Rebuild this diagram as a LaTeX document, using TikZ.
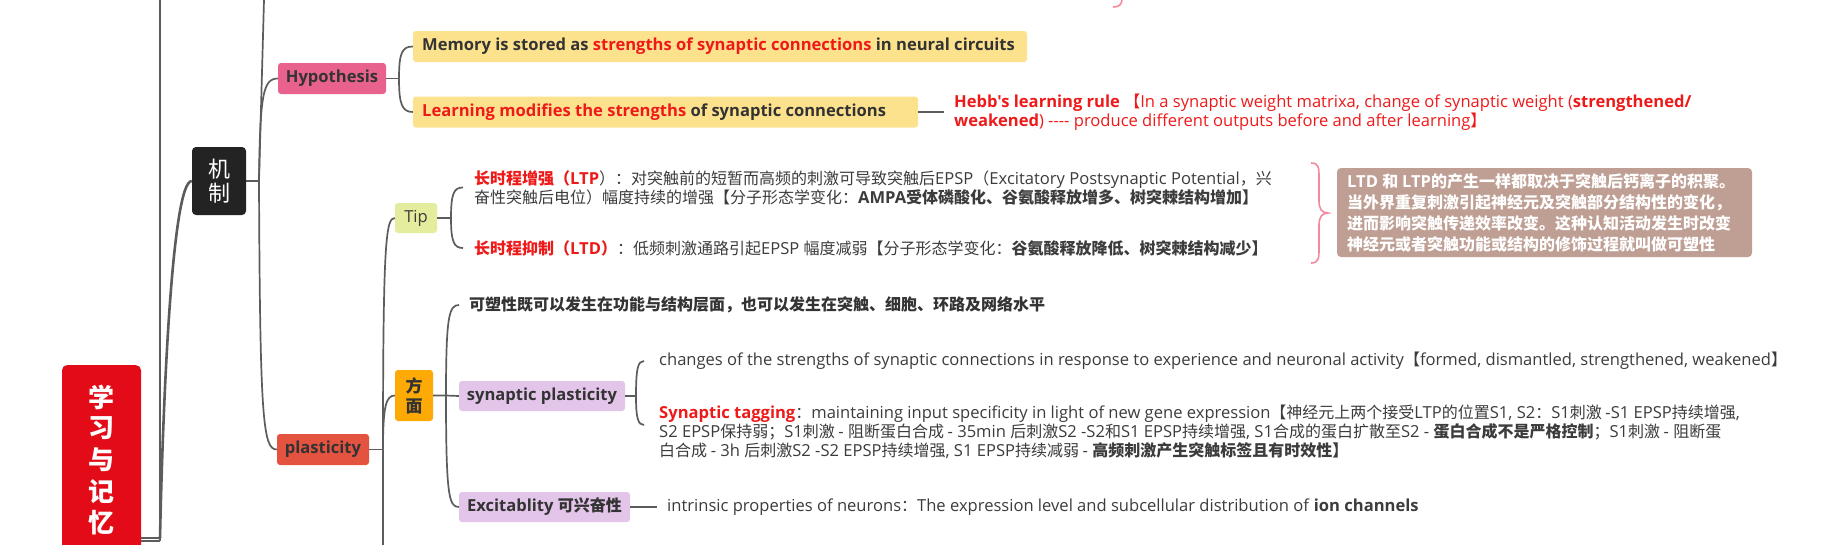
\documentclass[tikz,border=0pt]{standalone}
\usepackage{fontspec}
\setmainfont{Open Sans}[Scale=1.035]
\newfontfamily\latf{Open Sans}[Scale=1.035]
\newfontfamily\cjkf{Noto Sans CJK SC}
\XeTeXinterchartokenstate=1
\newXeTeXintercharclass\CJKcls
\makeatletter
\def\setcjkrange#1#2{\count@=#1\relax
  \loop\XeTeXcharclass\count@=\CJKcls\relax
  \ifnum\count@<#2\relax\advance\count@ by 1\relax\repeat}
\makeatother
\setcjkrange{"3000}{"303F}
\setcjkrange{"4E00}{"9FFF}
\setcjkrange{"FF00}{"FFEF}
\XeTeXinterchartoks 0 \CJKcls = {\cjkf}
\XeTeXinterchartoks 4095 \CJKcls = {\cjkf}
\XeTeXinterchartoks \CJKcls \CJKcls = {\cjkf}
\XeTeXinterchartoks \CJKcls 0 = {\latf}
\XeTeXinterchartoks 4095 0 = {\latf}

\definecolor{linec}{HTML}{5C5C5C}
\definecolor{textc}{HTML}{3C3C3C}
\definecolor{boldc}{HTML}{333333}
\definecolor{redc}{HTML}{EE1A1A}
\definecolor{rootc}{HTML}{E30B17}
\definecolor{jizhic}{HTML}{232323}
\definecolor{hypc}{HTML}{E9628D}
\definecolor{yelc}{HTML}{FDE28E}
\definecolor{tipc}{HTML}{E4EC9D}
\definecolor{plastc}{HTML}{E4533F}
\definecolor{fmc}{HTML}{FDAA06}
\definecolor{lavc}{HTML}{E2C5E9}
\definecolor{brownc}{HTML}{BF9F94}
\definecolor{pinkc}{HTML}{F3899F}
\newcommand{\redtxt}[1]{\textcolor{redc}{#1}}

\begin{document}
\begin{tikzpicture}[x=1pt,y=-1pt,
  conn/.style={draw=linec, line width=1.7pt},
  rootconn/.style={draw=linec, line width=2.6pt},
  lbl/.style={rounded corners=3pt, inner sep=0pt, minimum height=31pt, text=boldc,
    font=\bfseries\fontsize{16}{19}\selectfont},
  ybox/.style={fill=yelc, rounded corners=3pt, inner sep=0pt, minimum height=31pt},
  btxt/.style={anchor=west, inner sep=0pt, text=boldc, font=\bfseries\fontsize{16}{19}\selectfont},
  txt/.style={anchor=west, inner xsep=10pt, inner ysep=0pt, align=left, text=textc,
    font=\fontsize{16}{19}\selectfont},
  roottxt/.style={text=white, inner sep=0pt, font=\bfseries\fontsize{26}{28}\selectfont},
]
\useasboundingbox (0,0) rectangle (1842,544);
\fill[white] (0,0) rectangle (1842,544);
\clip (0,0) rectangle (1842,544);

% ---------- nodes ----------
\node[fill=rootc, rounded corners=5pt, inner sep=0pt, minimum width=79pt,
      minimum height=260pt, anchor=north] (root) at (101.5,365) {};
\foreach \c/\yy [count=\i] in {学/397,习/428,与/460,记/492,忆/523}
  \node[roottxt] (rc\i) at (101,\yy) {\c};

\node[fill=jizhic, text=white, rounded corners=4pt, inner sep=0pt, minimum width=54pt,
      minimum height=68pt, align=center, font=\fontsize{22}{24}\selectfont] (jizhi) at (219,181) {机\\制};

\node[lbl, fill=hypc, minimum width=108pt] (hyp) at (332,78.5) {Hypothesis};

\node[ybox, minimum width=614pt] (mem) at (720,46.5) {};
\node[btxt] (memt) at (422,46.5) {Memory is stored as \redtxt{strengths of synaptic connections} in neural circuits};
\node[ybox, minimum width=505pt] (learn) at (665.5,112) {};
\node[btxt] (learnt) at (422,112) {\redtxt{Learning modifies the strengths} of synaptic connections};

\node[txt, text=redc] (hebb) at (944,112) {\textbf{Hebb's learning rule} 【In a synaptic weight matrixa, change of synaptic weight (\textbf{strengthened/}\\
\textbf{weakened}) -{}-{}-{}- produce different outputs before and after learning】};

\node[lbl, fill=tipc, minimum width=42pt, minimum height=30pt, font=\fontsize{16}{19}\selectfont, text=textc] (tip) at (416,218) {Tip};

\node[txt, inner xsep=11pt, font=\fontsize{16}{17}\selectfont] (ltp) at (463,187.5)
 {\textbf{\redtxt{长时程增强（LTP}}）：对突触前的短暂而高频的刺激可导致突触后EPSP（Excitatory Postsynaptic Potential，兴\\
 奋性突触后电位）幅度持续的增强【分子形态学变化：\textbf{AMPA受体磷酸化、谷氨酸释放增多、树突棘结构增加】}};
\node[txt, inner xsep=11pt] (ltd) at (463,248)
 {\textbf{\redtxt{长时程抑制（LTD）}}：低频刺激通路引起EPSP 幅度减弱【分子形态学变化：\textbf{谷氨酸释放降低、树突棘结构减少】}};

\node[fill=brownc, rounded corners=4pt, inner sep=0pt, minimum width=415pt, minimum height=89pt] (summ) at (1544.5,212.5) {};
\node[anchor=west, inner sep=0pt, align=left, text=white, font=\bfseries\fontsize{16}{21}\selectfont] (summt) at (1347,212.5)
 {LTD 和 LTP的产生一样都取决于突触后钙离子的积聚。\\
  当外界重复刺激引起神经元及突触部分结构性的变化，\\
  进而影响突触传递效率改变。这种认知活动发生时改变\\
  神经元或者突触功能或结构的修饰过程就叫做可塑性};

\node[lbl, fill=plastc, minimum width=92pt] (plast) at (323,449.5) {plasticity};
\node[lbl, fill=fmc, minimum width=38pt, minimum height=51pt, align=center,
      font=\bfseries\fontsize{17}{20}\selectfont] (fm) at (414,395.5) {方\\面};

\node[txt, text=boldc, font=\bfseries\fontsize{16}{19}\selectfont] (kesu) at (459,305)
 {可塑性既可以发生在功能与结构层面，也可以发生在突触、细胞、环路及网络水平};

\node[lbl, fill=lavc, minimum width=166pt, minimum height=30pt] (synp) at (542,396) {synaptic plasticity};
\node[txt, inner xsep=15pt] (chg) at (644,361)
 {changes of the strengths of synaptic connections in response to experience and neuronal activity【formed, dismantled, strengthened, weakened】};
\node[txt, inner xsep=15pt] (tag) at (644,432)
 {\textbf{\redtxt{Synaptic tagging}}：maintaining input specificity in light of new gene expression【神经元上两个接受LTP的位置S1, S2：S1刺激 -S1 EPSP持续增强,\\
  S2 EPSP保持弱；S1刺激 - 阻断蛋白合成 - 35min 后刺激S2 -S2和S1 EPSP持续增强, S1合成的蛋白扩散至S2 - \textbf{蛋白合成不是严格控制}；S1刺激 - 阻断蛋\\
  白合成 - 3h 后刺激S2 -S2 EPSP持续增强, S1 EPSP持续减弱 - \textbf{高频刺激产生突触标签且有时效性】}};

\node[lbl, fill=lavc, minimum width=171pt, minimum height=30pt] (exc) at (544.5,507) {Excitablity 可兴奋性};
\node[txt] (intr) at (657,507)
 {intrinsic properties of neurons：The expression level and subcellular distribution of \textbf{ion channels}};

% ---------- connectors ----------
\coordinate (rj) at (160,538);
\coordinate (rj2) at (160,541);
\coordinate (rtop) at (160,0);
\draw[rootconn] (root.east |- rj) -- (rj);
\draw[rootconn] (root.east |- rj2) -- (rj2);
\draw[rootconn] (rj2) -- (rtop);
\draw[rootconn] (rj) .. controls (163,400) and (172,181) .. (jizhi.west);

\coordinate (jj) at (259,181);
\coordinate (jtop) at (264,0);
\draw[conn] (jizhi.east) -- (jj);
\draw[conn] (jj) -- (jtop);
\draw[conn] (jj) .. controls (260,95) and (263,78.5) .. (hyp.west);
\draw[conn] (jj) .. controls (260,420) and (263,449.5) .. (plast.west);

\coordinate (hj) at (399,78.5);
\draw[conn] (hyp.east) -- (hj);
\draw[conn] (hj) .. controls (399,53) and (402,46.5) .. (mem.west);
\draw[conn] (hj) .. controls (399,104) and (402,112) .. (learn.west);
\draw[conn] (learn.east) -- (hebb.west);

\coordinate (pj) at (383,449.5);
\coordinate (pbot) at (383,546);
\draw[conn] (plast.east) -- (pj);
\draw[conn] (pj) -- (pbot);
\draw[conn] (pj) .. controls (383,240) and (386,218) .. (tip.west);
\draw[conn] (pj) .. controls (383,406) and (386,395.5) .. (fm.west);

\coordinate (tj) at (451,218);
\draw[conn] (tip.east) -- (tj);
\draw[conn] (tj) .. controls (451,193) and (454,187.5) .. (ltp.west);
\draw[conn] (tj) .. controls (451,242) and (454,248) .. (ltd.west);

\coordinate (fj) at (446,395.5);
\draw[conn] (fm.east) -- (fj) -- (synp.west);
\draw[conn] (fj) .. controls (446,316) and (449,305) .. (kesu.west);
\draw[conn] (fj) .. controls (446,496) and (449,507) .. (exc.west);

\coordinate (sj) at (636,396);
\draw[conn] (synp.east) -- (sj);
\draw[conn] (sj) .. controls (636,368) and (638,361) .. (chg.west);
\draw[conn] (sj) .. controls (636,418) and (638,425) .. ([yshift=7pt]tag.west);

\draw[conn] (exc.east) -- (intr.west);

% summary brace
\coordinate (bt) at (1311,163);
\coordinate (bb) at (1311,263);
\draw[draw=pinkc, line width=1.6pt] (bt) .. controls (1319,163) and (1319,168) .. (1319,178) -- (1319,201)
  .. controls (1319,209) and (1322,213) .. (1328,213)
  .. controls (1322,213) and (1319,217) .. (1319,225) -- (1319,248)
  .. controls (1319,258) and (1319,263) .. (bb);
\coordinate (ftop) at (1122,-2);
\draw[draw=pinkc, line width=1.6pt] (ftop) .. controls (1122,5) and (1119,7) .. (1113,7);
\end{tikzpicture}
\end{document}
